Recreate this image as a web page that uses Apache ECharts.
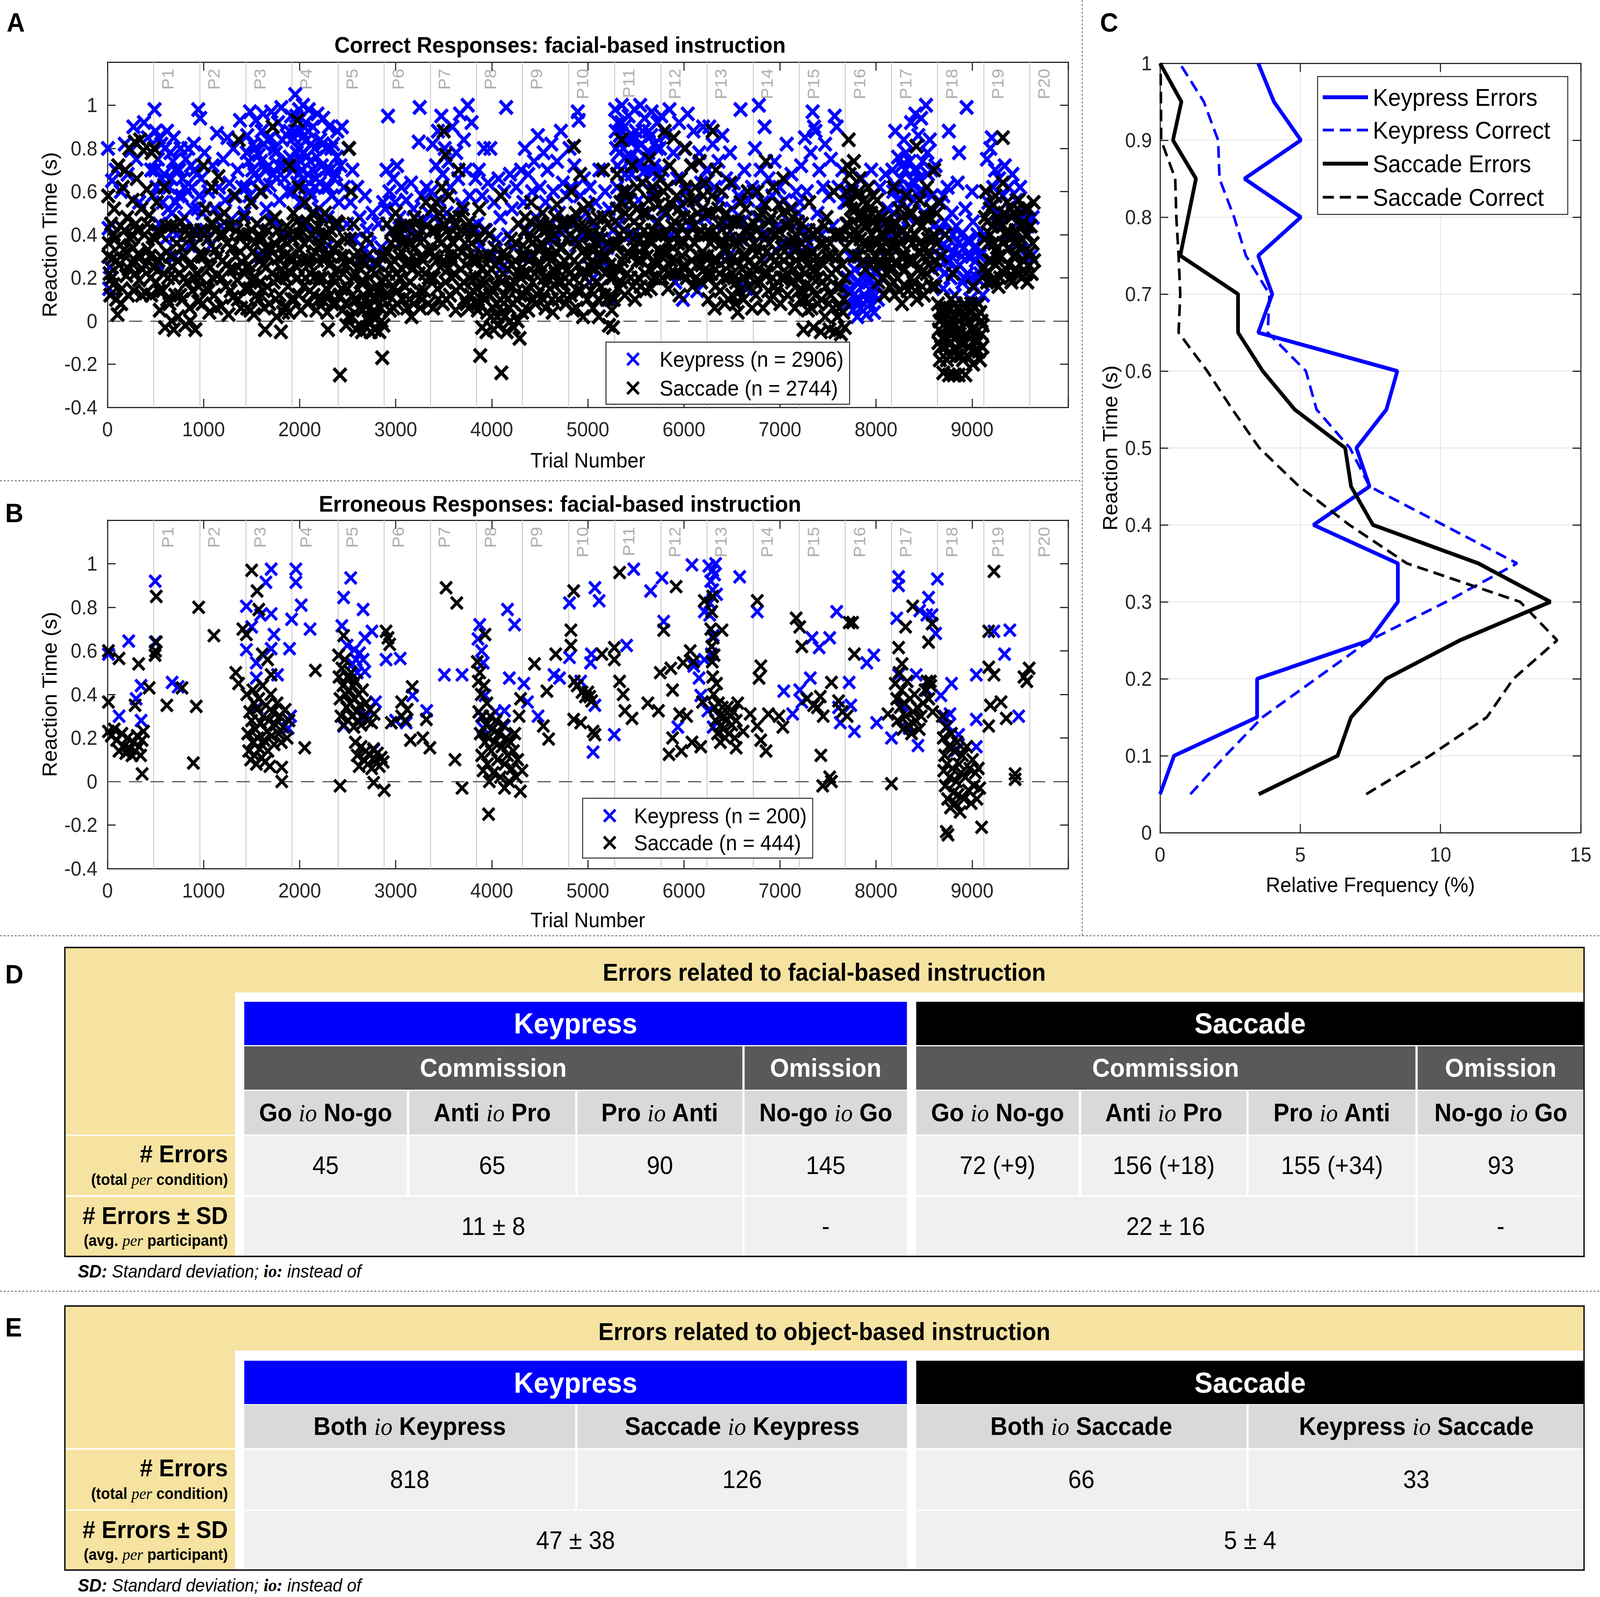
<!DOCTYPE html>
<html>
<head>
<meta charset="utf-8">
<title>Reaction times and errors</title>
<script src="https://cdn.jsdelivr.net/npm/echarts@6.0.0/dist/echarts.min.js"></script>
<style>
html, body { margin: 0; padding: 0; background: #fff; overflow: hidden; }
#frame { overflow: hidden; }
#chart { width: 4317px; height: 4089px; transform-origin: 0 0; }
</style>
</head>
<body>
<div id="frame"><div id="chart"></div></div>
<script>
var FONT = '"Liberation Sans", Arial, Helvetica, sans-serif';
var SERIF = '"Liberation Serif", "Times New Roman", serif';
var AXIS_COLOR = '#262626';
var BLUE = '#0000ff';
var X_PATH = 'path://M0,0L10,10M10,0L0,10';

// participant boundaries (trial numbers) and their labels
var participantStarts = [480, 960, 1440, 1920, 2400, 2880, 3360, 3840, 4320, 4800,
    5280, 5760, 6240, 6720, 7200, 7680, 8160, 8640, 9120, 9600];
var participantLabels = ['P1', 'P2', 'P3', 'P4', 'P5', 'P6', 'P7', 'P8', 'P9', 'P10',
    'P11', 'P12', 'P13', 'P14', 'P15', 'P16', 'P17', 'P18', 'P19', 'P20'];

// A: correct responses [trial, reaction time (s)]
var keyCorrect = [
 [5,.80],[12,.43],[18,.15],[25,.25],[48,.65],[85,.70],[140,.60],[180,.82],[210,.68],[245,.79],[270,.90],[300,.75],[330,.55],[380,.92],[420,.85],[455,.70],[470,.58],
 [490,.98],[500,.88],[510,.62],[525,.75],[540,.45],[560,.82],[575,.55],[590,.68],[605,.38],[620,.88],[640,.62],[655,.78],[670,.50],[690,.85],[705,.70],[720,.40],[740,.58],[760,.80],[780,.66],[800,.48],[815,.75],[835,.60],[850,.35],[870,.72],[885,.52],[900,.82],[915,.42],[930,.68],[945,.98],[955,.58],[520,.27],[700,.30],
 [495,.70],[535,.85],[565,.66],[598,.80],[632,.52],[662,.66],[682,.74],[712,.55],[748,.70],[772,.58],[808,.62],[842,.80],[878,.62],[908,.70],[938,.52],
 [965,.94],[975,.66],[990,.50],[1010,.78],[1030,.42],[1050,.60],[1075,.35],[1095,.72],[1115,.52],[1140,.87],[1160,.62],[1180,.44],[1205,.75],[1225,.56],[1250,.85],[1270,.64],[1290,.47],[1310,.80],[1335,.58],[1355,.70],[1380,.93],[1400,.62],[1425,.50],
 [1445,.62],[1455,.86],[1470,.74],[1485,.97],[1500,.55],[1515,.82],[1530,.68],[1545,.93],[1560,.45],[1575,.77],[1590,.60],[1605,.88],[1620,.96],[1640,.70],[1655,.52],[1670,.84],[1690,.63],[1705,.97],[1720,.47],[1740,.80],[1760,.66],[1775,.92],[1790,.56],[1810,.99],[1830,.72],[1850,.40],[1865,.86],[1880,.60],[1900,.76],[1912,.95],[1600,.30],[1700,.33],
 [1450,.78],[1478,.58],[1508,.70],[1538,.80],[1568,.66],[1598,.74],[1628,.82],[1648,.62],[1678,.72],[1698,.85],[1728,.68],[1752,.78],[1782,.72],[1818,.84],[1842,.66],[1872,.74],[1895,.88],
 [1925,.60],[1935,.85],[1945,.72],[1955,1.05],[1965,.95],[1975,.64],[1985,.80],[1995,.98],[2005,.55],[2015,.88],[2025,.70],[2035,1.0],[2045,.78],[2055,.62],[2065,.92],[2075,.84],[2085,.68],[2095,.98],[2110,.74],[2125,.58],[2140,.90],[2155,.80],[2170,.66],[2185,.96],[2200,.52],[2215,.84],[2230,.72],[2245,.94],[2260,.62],[2275,.80],[2290,.48],[2305,.90],[2320,.70],[2335,.58],[2350,.82],[2365,.45],[2380,.68],[2392,.88],[2060,.45],[2200,.40],[2300,.35],[2150,.50],
 [1930,.70],[1950,.88],[1970,.78],[1990,.68],[2010,.74],[2030,.85],[2050,.66],[2070,.76],[2090,.88],[2105,.60],[2120,.82],[2135,.70],[2160,.62],[2178,.76],[2210,.64],[2238,.82],[2268,.70],[2298,.62],[2328,.80],[2358,.66],[2388,.76],
 [2410,.55],[2425,.72],[2440,.90],[2460,.62],[2480,.08],[2495,.45],[2510,.80],[2530,.55],[2550,.70],[2575,.38],[2600,.62],[2625,.48],[2650,.30],[2680,.58],[2700,.42],[2730,.36],[2760,.50],[2790,.28],[2820,.45],[2850,.34],[2870,.55],
 [2890,.52],[2905,.70],[2920,.95],[2935,.60],[2955,.42],[2975,.66],[2995,.55],[3015,.72],[3040,.48],[3060,.62],[3085,.38],[3110,.56],[3135,.44],[3160,.64],[3185,.52],[3210,.40],[3240,.83],[3250,.99],[3270,.58],[3295,.46],[3320,.62],[3345,.50],
 [3370,.60],[3385,.82],[3400,.48],[3420,.72],[3440,.88],[3455,.56],[3475,.95],[3490,.68],[3510,.80],[3530,.50],[3550,.74],[3570,.62],[3590,.90],[3610,.45],[3630,.78],[3650,.66],[3670,.96],[3690,.54],[3710,.84],[3730,.70],[3750,1.0],[3770,.58],[3790,.92],[3810,.44],[3830,.66],
 [3850,.45],[3865,.70],[3880,.35],[3900,.58],[3920,.80],[3940,.42],[3960,.64],[3985,.80],[4005,.30],[4025,.55],[4045,.38],[4070,.66],[4090,.48],[4110,.25],[4130,.60],[4150,.99],[4170,.40],[4190,.68],[4210,.52],[4230,.34],[4255,.62],[4280,.45],[4305,.70],
 [4330,.55],[4345,.80],[4360,.42],[4380,.68],[4400,.30],[4420,.60],[4440,.74],[4460,.48],[4480,.86],[4500,.62],[4520,.36],[4540,.78],[4560,.55],[4580,.70],[4600,.44],[4620,.82],[4640,.60],[4660,.38],[4680,.74],[4700,.50],[4720,.88],[4740,.64],[4760,.42],[4780,.58],
 [4810,.80],[4825,.62],[4840,.45],[4860,.72],[4880,.35],[4895,.97],[4905,.93],[4920,.58],[4940,.40],[4960,.66],[4980,.50],[5000,.30],[5020,.62],[5040,.45],[5060,.20],[5080,.55],[5100,.38],[5120,.70],[5140,.28],[5160,.48],[5180,.60],[5200,.34],[5220,.52],[5240,.10],[5260,.42],
 [5285,.98],[5295,.80],[5305,.62],[5315,.92],[5325,.45],[5335,.86],[5345,.70],[5355,1.0],[5365,.55],[5380,.90],[5395,.76],[5410,.60],[5425,.95],[5440,.84],[5455,.68],[5470,.40],[5485,.98],[5500,.88],[5515,.72],[5530,.56],[5545,1.0],[5560,.82],[5575,.64],[5590,.94],[5605,.76],[5620,.50],[5635,.88],[5650,.70],[5665,.97],[5680,.60],[5695,.82],[5710,.45],[5725,.92],[5740,.68],[5752,.80],
 [5290,.88],[5310,.72],[5330,.78],[5350,.92],[5370,.80],[5390,.68],[5415,.85],[5450,.76],[5480,.84],[5510,.80],[5540,.74],[5570,.88],[5600,.70],[5630,.78],[5660,.86],[5690,.72],[5720,.80],
 [5765,.95],[5780,.70],[5795,.50],[5810,.86],[5830,.62],[5850,.98],[5870,.40],[5890,.78],[5910,.18],[5930,.66],[5950,.92],[5970,.54],[5990,.10],[6005,.80],[6020,.60],[6040,.96],[6060,.44],[6080,.72],[6100,.88],[6120,.56],[6140,.14],[6160,.78],[6180,.64],[6200,.90],[6220,.48],[6235,.70],
 [6250,.70],[6265,.90],[6280,.50],[6300,.82],[6320,.62],[6340,.40],[6360,.74],[6380,.56],[6400,.86],[6420,.45],[6440,.66],[6460,.30],[6480,.78],[6500,.52],[6520,.64],[6545,.38],[6570,.58],[6590,.98],[6610,.46],[6630,.70],[6650,.15],[6670,.56],[6690,.40],[6710,.62],
 [6725,.60],[6740,.80],[6760,.48],[6780,1.0],[6800,.70],[6820,.55],[6840,.90],[6860,.40],[6880,.66],[6900,.30],[6920,.58],[6945,.74],[6970,.44],[6995,.62],[7020,.36],[7045,.56],[7070,.82],[7095,.46],[7120,.68],[7145,.34],[7170,.60],[7190,.50],
 [7205,.55],[7220,.72],[7240,.42],[7260,.85],[7280,.60],[7300,.36],[7320,.78],[7340,.97],[7355,.90],[7370,.88],[7390,.50],[7410,.70],[7430,.40],[7450,.62],[7470,.82],[7490,.30],[7510,.58],[7530,.75],[7550,.44],[7570,.95],[7590,.90],[7610,.62],[7630,.40],[7650,.70],[7670,.55],
 [7690,.55],[7700,.20],[7715,.08],[7730,.30],[7745,.14],[7760,.05],[7775,.24],[7790,.10],[7805,.02],[7820,.18],[7840,.06],[7860,.26],[7880,.12],[7900,.03],[7920,.20],[7940,.08],[7960,.16],[7980,.04],[8000,.22],[8020,.10],[8040,.62],[8060,.45],[8080,.30],[8100,.68],[8120,.52],[8140,.40],[7750,.60],[7850,.66],[7950,.70],
 [7708,.14],[7738,.22],[7768,.12],[7798,.18],[7828,.10],[7868,.20],[7908,.10],[7948,.14],[7988,.12],[8012,.16],
 [8170,.70],[8185,.50],[8200,.88],[8215,.62],[8230,.76],[8245,.42],[8260,.66],[8275,.55],[8290,.84],[8305,.70],[8320,.60],[8335,.48],[8350,.74],[8365,.92],[8380,.65],[8395,.56],[8410,.96],[8425,.70],[8440,.86],[8455,.60],[8470,.94],[8485,.74],[8500,.50],[8520,1.0],[8540,.68],[8560,.84],[8580,.58],[8600,.44],[8620,.72],[8635,.36],
 [8180,.60],[8225,.56],[8268,.72],[8312,.78],[8358,.62],[8402,.70],[8448,.66],[8492,.60],[8535,.78],[8578,.70],
 [8650,.42],[8660,.25],[8675,.55],[8690,.35],[8700,.15],[8715,.46],[8730,.28],[8745,.62],[8758,.88],[8760,.38],[8775,.20],[8790,.50],[8805,.32],[8820,.12],[8835,.44],[8850,.64],[8865,.78],[8870,.26],[8885,.40],[8900,.18],[8915,.34],[8930,.52],[8943,.99],[8950,.22],[8965,.38],[8980,.10],[8995,.30],[9010,.46],[9025,.16],[9040,.28],[9055,.40],[9070,.08],[9085,.22],[9100,.32],[9112,.12],[8700,.58],[9000,.60],
 [8655,.30],[8682,.42],[8712,.22],[8738,.34],[8768,.28],[8798,.40],[8828,.24],[8858,.36],[8892,.30],[8922,.20],[8958,.30],[8988,.20],[9018,.34],[9048,.20],[9078,.30],[9108,.24],
 [9125,.40],[9140,.60],[9155,.75],[9170,.55],[9190,.80],[9205,.85],[9220,.62],[9240,.70],[9260,.50],[9280,.66],[9300,.45],[9320,.58],[9340,.72],[9360,.40],[9380,.62],[9400,.52],[9420,.68],[9440,.36],[9460,.56],[9480,.46],[9500,.62],[9520,.38],[9540,.50],[9560,.30],[9580,.44],
 [9615,.30],[9630,.48]
];
var sacCorrect = [
 [8,.58],[15,.36],[22,.22],[30,.12],[38,.45],[52,.29],[60,.17],[70,.52],[78,.38],[90,.10],[105,.03],[112,.72],[120,.26],[135,.44],[150,.15],[160,.62],[170,.33],[185,.70],[195,.21],[205,.48],[215,.12],[228,.80],[240,.38],[250,.27],[262,.56],[275,.14],[285,.83],[295,.45],[305,.66],[318,.31],[330,.19],[340,.84],[352,.52],[365,.24],[375,.79],[385,.40],[398,.13],[410,.61],[422,.33],[435,.49],[448,.20],[460,.78],[470,.39],
 [10,.30],[45,.20],[65,.40],[95,.28],[128,.35],[142,.08],[178,.42],[200,.32],[222,.24],[255,.40],[268,.34],[290,.22],[312,.42],[345,.30],[358,.12],[392,.26],[415,.45],[440,.30],[455,.12],[475,.25],
 [485,.80],[495,.38],[505,.18],[515,.55],[530,.28],[545,.05],[560,.40],[575,.14],[590,.62],[600,-.03],[615,.32],[630,.20],[645,.08],[660,.44],[675,.25],[690,-.04],[705,.12],[720,.36],[735,.02],[750,.22],[765,.46],[780,.10],[795,.30],[810,-.02],[825,.18],[840,.40],[855,.06],[870,.27],[885,.14],[900,.35],[915,-.04],[930,.22],[945,.09],[955,.31],
 [490,.25],[522,.42],[538,.14],[555,.30],[582,.22],[608,.44],[622,.10],[652,.30],[668,0],[698,.20],[712,.44],[728,.28],[758,.12],[772,.34],[802,.20],[818,.42],[848,.26],[862,0],[892,.42],[908,.20],[922,.40],[950,.16],
 [965,.20],[975,.42],[990,.08],[1000,.72],[1005,.30],[1020,.52],[1030,.15],[1045,.38],[1060,.04],[1070,.25],[1085,.62],[1100,.45],[1110,.12],[1125,.33],[1140,.21],[1155,.67],[1170,.40],[1185,.07],[1200,.28],[1215,.50],[1230,.16],[1245,.36],[1260,.03],[1275,.24],[1290,.44],[1305,.11],[1320,.58],[1335,.30],[1350,.19],[1365,.84],[1375,.40],[1390,.06],[1405,.27],[1420,.48],[1432,.15],
 [980,.30],[1012,.40],[1038,.26],[1052,.14],[1078,.45],[1092,.20],[1118,.42],[1132,.06],[1148,.30],[1162,.48],[1192,.20],[1208,.40],[1238,.26],[1252,.44],[1282,.14],[1298,.34],[1312,.24],[1342,.42],[1358,.10],[1382,.32],[1412,.40],[1425,.22],
 [1445,.25],[1455,.06],[1465,.40],[1480,.15],[1495,.55],[1510,.32],[1525,.03],[1540,.20],[1555,.45],[1570,.10],[1585,.28],[1600,.60],[1612,.38],[1625,.14],[1640,-.04],[1655,.25],[1670,.42],[1685,.08],[1700,.33],[1720,.90],[1730,.18],[1745,.48],[1760,.02],[1775,.29],[1790,.12],[1805,-.05],[1820,.38],[1835,.21],[1850,.07],[1865,.44],[1880,.16],[1895,.72],[1905,.30],[1915,.10],
 [1450,.35],[1472,.26],[1488,.05],[1502,.42],[1518,.20],[1532,.36],[1548,.12],[1562,.30],[1578,.40],[1592,.18],[1618,.26],[1632,.06],[1648,.34],[1662,.16],[1678,.30],[1692,.46],[1712,.22],[1738,.36],[1752,.10],[1768,.42],[1782,.20],[1798,.34],[1812,.24],[1828,.04],[1842,.30],[1858,.20],[1872,.36],[1888,.04],[1898,.40],[1910,.22],
 [1925,.28],[1935,.50],[1945,.10],[1960,.40],[1975,.93],[1980,.20],[1990,.62],[2000,.33],[2012,.05],[2025,.45],[2040,.16],[2055,.55],[2070,.28],[2085,.08],[2100,.38],[2115,.22],[2130,.50],[2145,.12],[2160,.32],[2175,.05],[2190,.44],[2205,.20],[2220,.36],[2235,.10],[2250,.28],[2265,.50],[2280,.15],[2295,-.04],[2310,.26],[2325,.42],[2340,.08],[2355,.33],[2370,.18],[2385,.46],[2395,.24],
 [1930,.38],[1952,.26],[1968,.46],[1992,.12],[2005,.40],[2020,.28],[2048,.36],[2062,.20],[2078,.46],[2092,.26],[2108,.14],[2122,.40],[2138,.30],[2152,.20],[2168,.42],[2182,.28],[2198,.10],[2212,.34],[2228,.48],[2242,.20],[2258,.40],[2272,.30],[2288,.04],[2302,.40],[2318,.12],[2332,.30],[2348,.20],[2362,.44],[2378,.08],[2390,.36],
 [2405,.45],[2415,.12],[2420,-.25],[2430,.30],[2445,.05],[2455,.22],[2470,.38],[2485,-.02],[2500,.15],[2515,.80],[2520,.28],[2535,.60],[2545,.02],[2560,.20],[2575,.10],[2590,-.04],[2605,.32],[2620,.06],[2635,.18],[2650,-.05],[2665,.12],[2680,.26],[2695,-.03],[2710,.08],[2725,.20],[2740,-.05],[2755,.04],[2770,.15],[2785,-.04],[2800,.10],[2815,.26],[2830,-.05],[2845,.06],[2860,.18],[2872,-.02],[2560,.45],[2700,.38],
 [2410,.20],[2438,.15],[2462,.30],[2478,.08],[2492,.26],[2508,.02],[2528,.38],[2552,.12],[2568,.30],[2582,.22],[2598,.10],[2612,.25],[2628,-.02],[2642,.28],[2658,.05],[2672,.18],[2688,.10],[2702,.30],[2718,0],[2732,.14],[2748,.24],[2762,.02],[2778,.10],[2792,.22],[2808,.02],[2822,.14],[2838,.30],[2852,0],[2866,.10],
 [2860,-.17],[2885,.30],[2895,.12],[2910,.45],[2925,.22],[2940,.05],[2955,.36],[2970,.15],[2985,.28],[3000,.50],[3015,.08],[3030,.40],[3045,.20],[3060,.32],[3075,.10],[3090,.44],[3105,.26],[3120,.06],[3135,.36],[3150,.18],[3165,.02],[3180,.30],[3195,.48],[3210,.12],[3225,.38],[3240,.22],[3255,.06],[3270,.42],[3285,.28],[3300,.14],[3315,.55],[3330,.33],[3345,.20],
 [2890,.20],[2918,.32],[2932,.12],[2948,.26],[2962,.42],[2978,.06],[2992,.38],[3008,.22],[3022,.14],[3038,.30],[3052,.44],[3068,.24],[3082,.36],[3098,.16],[3112,.38],[3128,.28],[3142,.10],[3158,.44],[3172,.24],[3188,.08],[3202,.34],[3218,.26],[3232,.46],[3248,.14],[3262,.30],[3278,.10],[3292,.38],[3308,.22],[3322,.44],[3338,.08],[3352,.32],
 [3365,.20],[3375,.42],[3390,.06],[3405,.30],[3420,.55],[3435,.15],[3450,.38],[3465,.25],[3480,.62],[3490,.08],[3500,.88],[3505,.45],[3520,.77],[3520,.18],[3535,.34],[3550,.58],[3565,.12],[3580,.28],[3595,.48],[3610,.22],[3625,.05],[3640,.40],[3655,.70],[3670,.16],[3685,.32],[3700,.52],[3715,.10],[3730,.26],[3745,.42],[3760,.06],[3775,.20],[3790,.36],[3805,.14],[3820,.30],[3835,.08],
 [3370,.32],[3382,.52],[3398,.20],[3412,.42],[3428,.28],[3442,.10],[3458,.50],[3472,.36],[3498,.28],[3512,.44],[3528,.10],[3542,.24],[3558,.40],[3572,.30],[3588,.20],[3602,.36],[3618,.44],[3632,.14],[3648,.30],[3662,.48],[3678,.24],[3692,.42],[3708,.18],[3722,.36],[3738,.08],[3752,.30],[3768,.46],[3782,.12],[3798,.28],[3812,.42],[3828,.20],
 [3845,.28],[3855,.05],[3870,.52],[3880,-.16],[3885,.18],[3900,-.03],[3915,.30],[3930,.10],[3945,-.05],[3960,.22],[3975,.40],[3990,.02],[4005,.15],[4020,-.04],[4035,.26],[4050,.08],[4065,-.02],[4080,.20],[4095,.58],[4100,-.24],[4110,.04],[4125,.32],[4140,.12],[4155,-.05],[4170,.24],[4185,.06],[4200,.38],[4215,.16],[4230,-.03],[4245,.28],[4260,.10],[4275,.45],[4290,-.08],[4305,.20],[4315,.04],
 [3850,.15],[3862,.38],[3878,.08],[3892,.24],[3908,.12],[3922,.42],[3938,.18],[3952,.04],[3968,.30],[3982,.12],[3998,.24],[4012,.06],[4028,.34],[4042,.16],[4058,.02],[4072,.28],[4088,.10],[4102,.18],[4118,.22],[4132,.02],[4148,.30],[4162,.10],[4178,.16],[4192,0],[4208,.26],[4222,.08],[4238,.18],[4252,.36],[4268,0],[4282,.22],[4298,.12],[4310,.30],
 [4325,.35],[4335,.12],[4350,.48],[4365,.22],[4380,.05],[4395,.38],[4410,.55],[4425,.18],[4440,.30],[4455,.08],[4470,.44],[4485,.25],[4500,.14],[4515,.36],[4530,.50],[4545,.20],[4560,.06],[4575,.32],[4590,.45],[4605,.15],[4620,.28],[4635,.04],[4650,.40],[4665,.22],[4680,.54],[4695,.10],[4710,.34],[4725,.18],[4740,.46],[4755,.28],[4770,.08],[4785,.38],
 [4330,.22],[4342,.42],[4358,.30],[4372,.14],[4388,.28],[4402,.46],[4418,.36],[4432,.10],[4448,.22],[4462,.38],[4478,.12],[4492,.34],[4508,.26],[4522,.44],[4538,.10],[4552,.30],[4568,.42],[4582,.20],[4598,.30],[4612,.38],[4628,.10],[4642,.24],[4658,.48],[4672,.32],[4688,.18],[4702,.42],[4718,.26],[4732,.34],[4748,.12],[4762,.20],[4778,.46],[4792,.24],
 [4805,.18],[4815,.40],[4830,.60],[4845,.05],[4855,.81],[4860,.28],[4875,.50],[4890,.14],[4905,.36],[4920,.68],[4935,.22],[4950,.02],[4965,.44],[4980,.30],[4995,.10],[5010,.54],[5025,.25],[5040,.40],[5055,.06],[5070,.33],[5085,.18],[5100,.48],[5115,.02],[5130,.26],[5145,.38],[5160,.70],[5175,.12],[5190,.30],[5205,.45],[5220,-.02],[5235,.20],[5250,.05],[5262,-.03],[5272,.35],
 [4810,.30],[4822,.12],[4838,.46],[4852,.20],[4868,.38],[4882,.06],[4898,.26],[4912,.44],[4928,.14],[4942,.32],[4958,.52],[4972,.20],[4988,.40],[5002,.22],[5018,.34],[5032,.14],[5048,.28],[5062,.46],[5078,.24],[5092,.36],[5108,.10],[5122,.40],[5138,.16],[5152,.30],[5168,.48],[5182,.22],[5198,.10],[5212,.36],[5228,.26],[5242,.12],[5258,.20],[5270,.10],
 [5285,.46],[5295,.25],[5305,.68],[5315,.35],[5325,.15],[5340,.55],[5350,.84],[5355,.28],[5370,.42],[5385,.12],[5400,.60],[5415,.32],[5430,.48],[5445,.20],[5460,.72],[5475,.38],[5490,.10],[5505,.52],[5520,.28],[5535,.44],[5550,.16],[5565,.64],[5580,.34],[5595,.22],[5610,.50],[5625,.38],[5640,.75],[5655,.15],[5670,.42],[5685,.28],[5700,.58],[5715,.20],[5730,.46],[5745,.33],[5755,.66],
 [5290,.36],[5302,.52],[5318,.24],[5332,.40],[5348,.18],[5362,.60],[5378,.30],[5392,.50],[5408,.22],[5422,.40],[5438,.56],[5452,.30],[5468,.16],[5482,.46],[5498,.34],[5512,.62],[5528,.20],[5542,.38],[5558,.28],[5572,.50],[5588,.42],[5602,.14],[5618,.30],[5632,.56],[5648,.24],[5662,.36],[5678,.62],[5692,.20],[5708,.40],[5722,.26],[5738,.54],[5752,.40],
 [5765,.40],[5775,.20],[5790,.60],[5800,.88],[5805,.32],[5820,.50],[5835,.15],[5850,.72],[5865,.28],[5880,.44],[5895,.85],[5910,.22],[5925,.58],[5940,.36],[5955,.12],[5970,.66],[5985,.30],[6000,.48],[6015,.80],[6030,.20],[6045,.56],[6060,.34],[6075,.72],[6090,.16],[6105,.44],[6120,.62],[6135,.26],[6150,.40],[6165,.74],[6180,.18],[6195,.52],[6210,.30],[6225,.64],[6237,.22],
 [5770,.30],[5782,.52],[5798,.24],[5812,.40],[5828,.62],[5842,.36],[5858,.22],[5872,.54],[5888,.34],[5902,.46],[5918,.28],[5932,.40],[5948,.52],[5962,.22],[5978,.44],[5992,.36],[6008,.26],[6022,.62],[6038,.40],[6052,.22],[6068,.48],[6082,.28],[6098,.56],[6112,.36],[6128,.20],[6142,.50],[6158,.30],[6172,.42],[6188,.26],[6202,.58],[6218,.40],[6232,.50],
 [6245,.30],[6255,.10],[6270,.50],[6285,.22],[6300,.88],[6305,.38],[6320,.06],[6335,.70],[6350,.28],[6365,.45],[6380,.14],[6395,.60],[6410,.33],[6425,.08],[6440,.50],[6455,.20],[6470,.38],[6485,.64],[6500,.12],[6515,.30],[6530,.46],[6545,.18],[6560,.04],[6575,.36],[6590,.55],[6605,.24],[6620,.10],[6635,.42],[6650,.30],[6665,.60],[6680,.16],[6695,.34],[6710,.06],
 [6250,.42],[6262,.20],[6278,.36],[6292,.58],[6312,.28],[6328,.16],[6342,.40],[6358,.52],[6372,.22],[6388,.36],[6402,.46],[6418,.20],[6432,.28],[6448,.40],[6462,.10],[6478,.26],[6492,.46],[6508,.22],[6522,.36],[6538,.08],[6552,.28],[6568,.46],[6582,.14],[6598,.38],[6612,.30],[6628,.20],[6642,.52],[6658,.22],[6672,.44],[6688,.28],[6702,.40],[6715,.22],
 [6725,.25],[6735,.45],[6750,.12],[6765,.60],[6780,.32],[6795,.18],[6810,.50],[6825,.06],[6840,.38],[6855,.74],[6870,.22],[6885,.46],[6900,.10],[6915,.30],[6930,.62],[6945,.16],[6960,.40],[6975,.26],[6990,.54],[7005,.08],[7020,.34],[7035,.66],[7050,.20],[7065,.44],[7080,.12],[7095,.30],[7110,.52],[7125,.18],[7140,.38],[7155,.06],[7170,.28],[7185,.46],[7195,.14],
 [6730,.36],[6742,.18],[6758,.42],[6772,.24],[6788,.48],[6802,.28],[6818,.40],[6832,.22],[6848,.54],[6862,.32],[6878,.14],[6892,.36],[6908,.48],[6922,.20],[6938,.40],[6952,.28],[6968,.14],[6982,.42],[6998,.30],[7012,.20],[7028,.50],[7042,.28],[7058,.36],[7072,.22],[7088,.44],[7102,.26],[7118,.36],[7132,.48],[7148,.24],[7162,.40],[7178,.20],[7192,.34],
 [7205,.30],[7215,.10],[7230,.45],[7245,-.04],[7260,.22],[7275,.38],[7290,.05],[7305,.55],[7320,.16],[7335,.32],[7350,-.03],[7365,.24],[7380,.42],[7395,.08],[7410,.28],[7425,-.05],[7440,.18],[7455,.36],[7470,.02],[7485,.48],[7500,.20],[7515,-.04],[7530,.12],[7545,.30],[7560,.60],[7575,-.05],[7590,.16],[7605,.40],[7620,.06],[7635,-.06],[7650,.26],[7665,.10],[7675,-.03],
 [7210,.20],[7222,.36],[7238,.14],[7252,.30],[7268,.10],[7282,.26],[7298,.42],[7312,.30],[7328,.06],[7342,.20],[7358,.40],[7372,.12],[7388,.30],[7402,.20],[7418,.36],[7432,.10],[7448,.26],[7462,.44],[7478,.16],[7492,.30],[7508,.08],[7522,.36],[7538,.22],[7552,.06],[7568,.40],[7582,.24],[7598,.02],[7612,.30],[7628,.16],[7642,.40],[7658,.04],[7672,.20],
 [7685,.34],[7695,.60],[7705,.45],[7715,.84],[7725,.68],[7740,.52],[7755,.38],[7770,.74],[7785,.42],[7800,.58],[7815,.30],[7830,.66],[7845,.48],[7860,.36],[7875,.56],[7890,.24],[7905,.44],[7920,.62],[7935,.34],[7950,.50],[7965,.28],[7980,.46],[7995,.38],[8010,.56],[8025,.18],[8040,.34],[8055,.26],[8070,.48],[8085,.12],[8100,.36],[8115,.22],[8130,.44],[8145,.16],[8155,.30],
 [7690,.45],[7702,.72],[7718,.56],[7732,.40],[7748,.62],[7762,.46],[7778,.30],[7792,.52],[7808,.40],[7822,.60],[7838,.38],[7852,.50],[7868,.28],[7882,.44],[7898,.54],[7912,.36],[7928,.48],[7942,.26],[7958,.40],[7972,.58],[7988,.30],[8002,.44],[8018,.36],[8032,.50],[8048,.28],[8062,.40],[8078,.20],[8092,.30],[8108,.46],[8122,.32],[8138,.24],[8152,.42],
 [8165,.25],[8175,.45],[8185,.62],[8195,.12],[8210,.35],[8225,.20],[8240,.52],[8255,.30],[8270,.08],[8285,.42],[8300,.24],[8315,.58],[8330,.14],[8345,.38],[8360,.28],[8375,.50],[8390,.18],[8405,.40],[8420,.81],[8425,.10],[8440,.32],[8455,.56],[8470,.22],[8485,.44],[8500,.12],[8515,.34],[8530,.62],[8545,.26],[8560,.48],[8575,.16],[8590,.38],[8605,.70],[8620,.28],[8633,.50],
 [8170,.35],[8182,.18],[8198,.46],[8212,.26],[8228,.40],[8242,.14],[8258,.36],[8272,.48],[8288,.30],[8302,.16],[8318,.40],[8332,.28],[8348,.50],[8362,.20],[8378,.36],[8392,.28],[8408,.14],[8422,.46],[8438,.24],[8452,.36],[8468,.44],[8482,.16],[8498,.30],[8512,.48],[8528,.22],[8542,.38],[8558,.30],[8572,.52],[8588,.24],[8602,.40],[8618,.16],[8632,.36],
 [8645,.08],[8655,-.04],[8665,-.18],[8675,.04],[8690,-.08],[8700,-.24],[8705,.02],[8720,-.12],[8735,.06],[8750,-.04],[8760,-.25],[8765,-.16],[8780,.10],[8795,-.06],[8810,-.25],[8815,.02],[8830,-.14],[8845,.06],[8860,-.04],[8860,-.25],[8875,-.10],[8890,.04],[8905,-.18],[8920,.08],[8930,-.25],[8935,-.06],[8950,.02],[8965,-.12],[8980,.05],[8995,-.04],[9010,-.20],[9025,.06],[9040,-.08],[9055,.02],[9070,-.14],[9085,.04],[9100,-.06],[9110,-.02],[8680,.30],[8800,.22],[9010,.16],[8660,.55],[8720,.40],
 [8650,-.10],[8662,0],[8678,-.12],[8692,.06],[8708,-.08],[8722,.04],[8738,-.18],[8752,-.02],[8768,.06],[8782,-.10],[8798,0],[8812,-.08],[8828,.08],[8842,-.16],[8858,0],[8872,-.06],[8888,-.16],[8902,.02],[8918,-.10],[8932,.06],[8948,-.16],[8962,0],[8978,-.08],[8992,.08],[9008,-.04],[9022,-.14],[9038,.02],[9052,-.10],[9068,.08],[9082,-.18],[9098,0],[9108,-.12],
 [9125,.25],[9135,.48],[9145,.60],[9155,.18],[9170,.36],[9185,.52],[9200,.28],[9215,.44],[9230,.20],[9245,.58],[9260,.34],[9275,.16],[9290,.46],[9305,.30],[9320,.85],[9320,.64],[9335,.22],[9350,.40],[9365,.55],[9380,.26],[9395,.38],[9410,.18],[9425,.50],[9440,.30],[9455,.42],[9470,.22],[9485,.56],[9500,.34],[9515,.20],[9530,.46],[9545,.28],[9560,.40],[9575,.18],[9590,.52],[9600,.32],
 [9130,.38],[9142,.22],[9158,.46],[9172,.28],[9188,.40],[9202,.18],[9218,.54],[9232,.36],[9248,.26],[9262,.48],[9278,.30],[9292,.20],[9308,.44],[9322,.36],[9338,.50],[9352,.24],[9368,.42],[9382,.34],[9398,.20],[9412,.48],[9428,.30],[9442,.40],[9458,.24],[9472,.52],[9488,.36],[9502,.22],[9518,.44],[9532,.28],[9548,.52],[9562,.22],[9578,.40],[9592,.26],
 [9610,.44],[9620,.22],[9630,.36],[9640,.55],[9645,.28]
];

// B: erroneous responses [trial, reaction time (s)]
var keyError = [
 [10,.585],[121,.30],[221,.645],[298,.38],[350,.28],[350,.44],[497,.92],[497,.64],[673,.455],[736,.435],
 [1446,.805],[1446,.605],[1501,.71],[1549,.545],[1549,.475],[1593,.765],[1649,.915],[1704,.975],[1704,.77],[1733,.675],[1704,.61],[1770,.49],[1895,.61],[1917,.745],[1961,.975],[1961,.915],[2017,.81],[2109,.70],[1906,.30],[1880,.245],[1557,.34],
 [2458,.845],[2440,.715],[2532,.935],[2661,.79],[2753,.69],[2679,.66],[2495,.625],[2569,.605],[2624,.59],[2587,.56],[2661,.56],[2900,.56],[3047,.565],[2679,.505],[2790,.365],[3176,.395],[3323,.325],[3000,.28],[3110,.27],[2771,.145],[2458,.255],[2600,.50],[2550,.54],[2700,.30],
 [3507,.49],[3691,.49],[3875,.72],[3857,.655],[3912,.545],[3894,.60],[3930,.395],[3912,.245],[3894,.30],[4040,.32],[4133,.325],[4164,.79],[4238,.72],[4183,.475],[4133,.255],[4335,.45],[4372,.365],[4482,.30],[4648,.49],
 [4706,.475],[4809,.82],[4809,.57],[4926,.46],[5029,.545],[5037,.585],[5074,.89],[5118,.83],[5074,.35],[5055,.135],[5276,.215],[5404,.625],[5478,.975],[5654,.875],[5772,.935],[5790,.735],[5937,.25],[6084,.995],[6103,.53],[6158,.475],[6213,.56],[6176,.395],[6213,.78],[6268,.765],
 [6260,.99],[6300,.97],[6320,.95],[6280,.92],[6330,1.0],[6300,.88],[6340,.86],[6270,.82],[6305,.67],[6286,.585],[6250,.325],[6305,.25],[6581,.94],[6764,.78],
 [7040,.415],[7132,.31],[7206,.42],[7228,.365],[7316,.475],[7334,.66],[7408,.615],[7518,.66],[7591,.78],[7610,.34],[7628,.27],[7720,.455],[7738,.35],[7775,.23],[7904,.545],[7977,.58],[8007,.27],
 [8161,.20],[8235,.94],[8235,.90],[8216,.75],[8235,.49],[8271,.35],[8345,.245],[8437,.165],[8418,.49],[8455,.785],[8529,.765],[8547,.845],[8584,.765],[8621,.68],[8639,.93],[8529,.42],
 [8676,.395],[8713,.30],[8786,.45],[8749,.255],[8770,.31],[8841,.145],[8860,.215],[9044,.49],[9044,.285],[9044,.16],[9227,.69],[9393,.695],[9338,.585],[9485,.30]
];
var sacError = [
 [10,.60],[120,.565],[10,.365],[10,.23],[40,.21],[70,.24],[95,.19],[120,.14],[150,.22],[170,.16],[190,.13],[210,.20],[235,.15],[255,.12],[270,.18],[290,.14],[310,.21],[330,.16],[345,.12],[360,.19],[375,.23],[361,.035],[324,.54],[287,.35],[434,.43],[508,.85],[508,.64],[500,.60],[495,.58],[618,.35],[776,.43],[949,.80],[924,.345],[894,.085],[1108,.67],
 [1336,.50],[1365,.45],[1409,.70],[1446,.675],[1501,.97],[1557,.875],[1575,.79],[1612,.585],[1667,.56],[1704,.49],
 [1450,.40],[1460,.22],[1470,.14],[1480,.32],[1490,.10],[1500,.28],[1510,.18],[1515,.42],[1525,.36],[1530,.12],[1540,.24],[1550,.08],[1555,.33],[1565,.20],[1575,.38],[1585,.15],[1595,.27],[1605,.11],[1615,.44],[1620,.30],[1630,.19],[1640,.09],[1650,.35],[1660,.23],[1670,.14],[1680,.28],[1690,.07],[1700,.40],[1710,.21],[1720,.32],[1735,.17],[1750,.26],[1765,.36],[1780,.22],[1795,.30],[1810,.18],[1830,.25],[1850,.33],[1870,.20],[1890,.28],
 [1814,.065],[1814,0],[2053,.155],[2164,.51],
 [2421,-.02],[2458,.67],[2405,.58],[2410,.48],[2420,.38],[2430,.30],[2440,.52],[2450,.44],[2460,.26],[2470,.56],[2480,.40],[2490,.34],[2500,.48],[2505,.28],[2515,.42],[2525,.36],[2535,.50],[2545,.30],[2555,.44],[2565,.25],[2575,.38],[2585,.46],[2595,.32],[2605,.28],[2615,.40],[2625,.35],[2640,.26],[2655,.42],[2670,.30],[2690,.36],[2710,.28],[2730,.33],[2750,.27],[2775,.31],
 [2580,.18],[2600,.12],[2620,.07],[2640,.16],[2665,.10],[2690,.14],[2710,.08],[2730,.12],[2750,.06],[2770,.15],[2790,.10],[2810,.13],[2830,.07],[2850,.11],[2870,.09],
 [2771,-.005],[2881,-.04],[2900,.69],[2937,.63],[2920,.66],[2955,.27],[3062,.365],[3172,.435],[3154,.19],[3282,.20],[3319,.285],[3356,.155],[3062,.30],[3100,.28],[3120,.33],
 [3525,.89],[3636,.82],[3617,.10],[3691,-.03],
 [3850,.55],[3860,.46],[3865,.32],[3875,.50],[3880,.22],[3890,.40],[3895,.12],[3905,.30],[3910,.05],[3920,.44],[3930,.18],[3940,.26],[3950,.36],[3955,.08],[3965,.20],[3975,0],[3985,.30],[3995,.14],[4005,.24],[4015,.04],[4030,.18],[4045,.28],[4060,.10],[4075,.22],[4090,.02],[4105,.16],[4120,.26],[4135,.08],[4150,.20],[4165,.12],[4180,0],[4195,.18],[4210,.06],[4225,.14],[4240,.22],[4255,.02],[4270,.10],[4285,.30],[4300,.38],[4315,.05],
 [3967,-.15],[3930,.675],[4133,-.03],[4298,-.045],[4445,.54],[4574,.415],[4592,.195],[4537,.255],[4666,.585],
 [4853,.875],[4824,.695],[4824,.625],[4860,.46],[4890,.44],[4940,.41],[4975,.39],[5000,.41],[5020,.39],[5040,.37],[4853,.285],[4926,.27],[5055,.23],[5074,.215],[5147,.585],[5276,.615],[5276,.56],[5331,.96],[5331,.46],[5368,.40],[5386,.325],[5460,.29],[5625,.36],[5735,.325],[5754,.50],[5790,.695],[5864,.52],[5919,.895],[5882,.42],[5845,.125],[5882,.20],[5974,.14],[5956,.31],[6029,.30],[6066,.60],[5993,.545],[6100,.55],[6084,.18],[6176,.16],[6213,.83],[6194,.365],
 [6280,.70],[6290,.62],[6295,.55],[6300,.48],[6305,.66],[6310,.40],[6315,.58],[6320,.34],[6330,.28],[6340,.45],[6350,.22],[6360,.36],[6370,.30],[6380,.18],[6390,.26],[6400,.34],[6410,.24],[6420,.30],[6430,.20],[6440,.28],[6455,.34],[6470,.22],[6485,.30],[6500,.26],[6515,.32],[6530,.20],[6545,.28],[6560,.36],[6300,.85],[6290,.78],
 [6397,.695],[6544,.155],[6617,.23],[6690,.31],[6763,.255],[6800,.19],[6855,.14],[6801,.53],[6782,.475],[6764,.83],[6880,.31],[6990,.30],[7030,.25],
 [7169,.75],[7206,.71],[7228,.62],[7280,.38],[7350,.35],[7390,.34],[7420,.39],[7450,.30],[7426,.12],[7445,-.02],[7518,.02],[7536,0],[7536,.455],[7610,.37],[7650,.32],[7700,.30],[7720,.73],[7757,.73],[7775,.585],[8124,.31],[8161,-.01],[8235,.615],[8271,.54],
 [8200,.45],[8215,.38],[8225,.28],[8240,.50],[8250,.34],[8265,.42],[8280,.24],[8295,.36],[8310,.30],[8325,.46],[8340,.26],[8355,.38],[8370,.22],[8385,.32],[8400,.40],[8415,.28],[8430,.34],[8450,.24],[8470,.30],[8490,.36],[8510,.42],[8530,.46],[8550,.38],[8570,.44],[8590,.32],
 [8308,.71],[8382,.805],[8547,.64],[8584,.725],[8566,.46],
 [8690,.30],[8700,.20],[8705,.05],[8715,.12],[8720,-.02],[8730,.25],[8740,.08],[8745,-.08],[8755,.16],[8765,.02],[8775,-.12],[8785,.22],[8795,.06],[8805,-.05],[8815,.14],[8825,-.10],[8835,0],[8845,.18],[8855,-.06],[8865,.08],[8875,-.14],[8885,.04],[8900,.12],[8915,-.08],[8930,.02],[8945,.16],[8960,-.04],[8975,.06],[8990,-.10],[9005,.10],[9020,-.02],[9035,.04],[9050,-.08],[9065,.06],[9080,-.03],
 [8731,-.23],[8749,-.245],[9099,-.21],[9173,.69],[9228,.965],[9173,.525],[9228,.49],[9191,.35],[9301,.365],[9356,.29],[9173,.255],[9448,.035],[9448,.01],[9540,.48],[9570,.46],[9594,.52]
];

// C: relative frequency (%) per reaction-time bin (s)
var rtBins = [0.05, 0.1, 0.15, 0.2, 0.25, 0.3, 0.35, 0.4, 0.45, 0.5, 0.55, 0.6, 0.65, 0.7, 0.75, 0.8, 0.85, 0.9, 0.95, 1.0];
var freqKeyErrors = [0, 0.5, 3.46, 3.46, 7.47, 8.48, 8.48, 5.47, 7.47, 7.0, 8.07, 8.46, 3.5, 4.0, 3.5, 5.02, 3.01, 5.02, 4.06, 3.5];
var freqKeyCorrect = [1.08, 2.33, 3.65, 5.56, 7.47, 10.2, 12.73, 10.1, 7.47, 6.77, 5.58, 5.2, 3.84, 3.9, 3.06, 2.64, 2.12, 2.07, 1.56, 0.7];
var freqSacErrors = [3.52, 6.33, 6.81, 8.06, 10.69, 13.92, 11.35, 7.59, 6.81, 6.6, 4.8, 3.66, 2.78, 2.78, 0.72, 1.0, 1.28, 0.46, 0.76, 0];
var freqSacCorrect = [7.35, 9.62, 11.65, 12.6, 14.16, 12.84, 8.8, 6.75, 4.96, 3.54, 2.58, 1.68, 0.66, 0.72, 0.66, 0.58, 0.54, 0.04, 0.03, 0.02];

// D: errors related to facial-based instruction
var facialConditions = [['Go', 'No-go'], ['Anti', 'Pro'], ['Pro', 'Anti'], ['No-go', 'Go']];
var facialKeyErrors = ['45', '65', '90', '145'];
var facialSacErrors = ['72 (+9)', '156 (+18)', '155 (+34)', '93'];
var facialKeyAvg = ['11 \u00b1 8', '-'];
var facialSacAvg = ['22 \u00b1 16', '-'];

// E: errors related to object-based instruction
var objectKeyConditions = [['Both', 'Keypress'], ['Saccade', 'Keypress']];
var objectSacConditions = [['Both', 'Saccade'], ['Keypress', 'Saccade']];
var objectKeyErrors = ['818', '126'];
var objectSacErrors = ['66', '33'];
var objectKeyAvg = '47 \u00b1 38';
var objectSacAvg = '5 \u00b1 4';

// the figure is laid out on a 4317 x 4089 sheet; squeeze it into the window if that is smaller
var SHEET_W = 4317, SHEET_H = 4089;
var fitX = Math.min(1, (window.innerWidth || SHEET_W) / SHEET_W);
var fitY = Math.min(1, (window.innerHeight || SHEET_H) / SHEET_H);
var frame = document.getElementById('frame');
frame.style.width = Math.floor(SHEET_W * fitX) + 'px';
frame.style.height = Math.floor(SHEET_H * fitY) + 'px';
document.getElementById('chart').style.transform = 'scale(' + fitX + ',' + fitY + ')';

var chart = echarts.init(document.getElementById('chart'), null, {renderer: 'svg'});

function tickAxis(grid, position, min, max, interval) {
    return {
        gridIndex: grid, type: 'value', position: position, min: min, max: max, interval: interval,
        axisLine: {onZero: false, lineStyle: {color: AXIS_COLOR, width: 3}},
        axisTick: {inside: true, length: 22, lineStyle: {color: AXIS_COLOR, width: 3}},
        axisLabel: {show: false},
        splitLine: {show: false}
    };
}

function labelAxis(grid, position, min, max, interval, name, nameGap, margin, hideAbove) {
    var axis = tickAxis(grid, position, min, max, interval);
    axis.name = name;
    axis.nameLocation = 'middle';
    axis.nameGap = nameGap;
    axis.nameTextStyle = {fontSize: 54, color: '#000', fontFamily: FONT};
    axis.axisLabel = {
        show: true, fontSize: 52, color: AXIS_COLOR, fontFamily: FONT, margin: margin,
        formatter: function (v) {
            if (v > hideAbove + 1e-9) return '';
            return String(Math.round(v * 10) / 10);
        }
    };
    return axis;
}

function crosses(data, name, color, gx, gy, size, stroke) {
    return {
        type: 'scatter', name: name, xAxisIndex: gx, yAxisIndex: gy, data: data,
        symbol: X_PATH, symbolSize: size, progressive: 0, silent: true,
        itemStyle: {color: 'rgba(0,0,0,0)', borderColor: color, borderWidth: stroke, opacity: 1},
        z: 2
    };
}

function guideLines() {
    var lines = participantStarts.map(function (t) {
        return {xAxis: t, lineStyle: {color: '#cccccc', width: 2.5, type: 'solid'}};
    });
    lines.push({yAxis: 0, lineStyle: {color: '#595959', width: 3, type: [36, 22]}});
    return {silent: true, symbol: ['none', 'none'], z: 1, animation: false, label: {show: false}, data: lines};
}

function profile(name, values, color, dashed) {
    return {
        type: 'line', name: name, xAxisIndex: 4, yAxisIndex: 4, silent: true,
        data: values.map(function (v, i) { return [v, rtBins[i]]; }),
        symbol: 'none', itemStyle: {color: color},
        lineStyle: {color: color, width: dashed ? 7 : 10, type: dashed ? [30, 16] : 'solid'},
        z: 3
    };
}

function crossLegend(left, top, names, padding, gap, textPad) {
    return {
        orient: 'vertical', left: left, top: top, selectedMode: false,
        data: [
            {name: names[0], icon: X_PATH, itemStyle: {color: 'rgba(0,0,0,0)', borderColor: BLUE, borderWidth: 7}},
            {name: names[1], icon: X_PATH, itemStyle: {color: 'rgba(0,0,0,0)', borderColor: '#000', borderWidth: 7}}
        ],
        itemWidth: 33, itemHeight: 31, itemGap: gap, padding: padding,
        backgroundColor: '#fff', borderColor: AXIS_COLOR, borderWidth: 2.5, borderRadius: 0,
        textStyle: {fontSize: 55, color: '#000', fontFamily: FONT, padding: [0, 0, 0, textPad]}
    };
}

var keyANames = ['Keypress (n = 2906)', 'Saccade (n = 2744)'];
var keyBNames = ['Keypress (n = 200)', 'Saccade (n = 444)'];
var profileNames = ['Keypress Errors', 'Keypress Correct', 'Saccade Errors', 'Saccade Correct'];

var cGrid = {show: true, lineStyle: {color: '#e3e3e3', width: 2}};
var cx = labelAxis(2, 'bottom', 0, 15, 5, 'Relative Frequency (%)', 106, 30, 15);
cx.splitLine = cGrid;
var cy = labelAxis(2, 'left', 0, 1, 0.1, 'Reaction Time (s)', 108, 22, 1);
cy.splitLine = cGrid;

var option = {
    animation: false,
    backgroundColor: '#fff',
    textStyle: {fontFamily: FONT},
    grid: [
        {left: 290, top: 159, width: 2592, height: 884},
        {left: 290, top: 1332, width: 2592, height: 892},
        {left: 3130, top: 162, width: 1135, height: 1970}
    ],
    xAxis: [
        labelAxis(0, 'bottom', 0, 10000, 1000, 'Trial Number', 108, 30, 9000),
        tickAxis(0, 'top', 0, 10000, 1000),
        labelAxis(1, 'bottom', 0, 10000, 1000, 'Trial Number', 104, 30, 9000),
        tickAxis(1, 'top', 0, 10000, 1000),
        cx,
        tickAxis(2, 'top', 0, 15, 5)
    ],
    yAxis: [
        labelAxis(0, 'left', -0.4, 1.2, 0.2, 'Reaction Time (s)', 129, 27, 1),
        tickAxis(0, 'right', -0.4, 1.2, 0.2),
        labelAxis(1, 'left', -0.4, 1.2, 0.2, 'Reaction Time (s)', 129, 27, 1),
        tickAxis(1, 'right', -0.4, 1.2, 0.2),
        cy,
        tickAxis(2, 'right', 0, 1, 0.1)
    ],
    legend: [
        crossLegend(1635, 876, keyANames, [16, 16, 14, 54], 19, 50),
        crossLegend(1572, 2044, keyBNames, [17, 16, 12, 54], 14, 44)
    ],
    series: []
};

// the dense correct-response cloud gets slightly heavier crosses than the sparse error panel
var keyA = crosses(keyCorrect, keyANames[0], BLUE, 0, 0, 34, 9);
keyA.markLine = guideLines();
var keyB = crosses(keyError, keyBNames[0], BLUE, 2, 2, 31, 8);
keyB.markLine = guideLines();
option.series.push(keyA, crosses(sacCorrect, keyANames[1], '#000', 0, 0, 34, 9));
option.series.push(keyB, crosses(sacError, keyBNames[1], '#000', 2, 2, 31, 8));
option.series.push(
    profile(profileNames[0], freqKeyErrors, BLUE, false),
    profile(profileNames[1], freqKeyCorrect, BLUE, true),
    profile(profileNames[2], freqSacErrors, '#000', false),
    profile(profileNames[3], freqSacCorrect, '#000', true)
);

chart.setOption(option);

// ---- decorations: panel letters, titles, separators, legend C, participant labels, tables ----
var graphics = [];

function txt(x, y, s, size, opts) {
    opts = opts || {};
    var el = {
        type: 'text', x: x, y: y, silent: true, rotation: opts.rotation || 0,
        style: {
            text: s, fill: opts.fill || '#000', fontSize: size, fontFamily: opts.family || FONT,
            fontWeight: opts.weight || 'normal', fontStyle: opts.style || 'normal',
            align: opts.align || 'center', verticalAlign: 'middle'
        }
    };
    if (opts.rich) el.style.rich = opts.rich;
    return el;
}
function box(x1, y1, x2, y2, fill, stroke, lw) {
    return {
        type: 'rect', silent: true,
        shape: {x: x1, y: y1, width: x2 - x1, height: y2 - y1},
        style: {fill: fill || 'none', stroke: stroke || 'none', lineWidth: lw || 0}
    };
}
function seg(x1, y1, x2, y2, color, width, dash) {
    return {
        type: 'line', silent: true, shape: {x1: x1, y1: y1, x2: x2, y2: y2},
        style: {stroke: color, lineWidth: width, lineDash: dash || null}
    };
}

graphics.push(seg(0, 1231, 2920, 1231, '#555', 2, [5, 5]), seg(2920, 0, 2920, 2396, '#555', 2, [5, 5]),
    seg(0, 2396, 4317, 2396, '#555', 2, [5, 5]), seg(0, 3306, 4317, 3306, '#555', 2, [5, 5]));

['A', 'B', 'C', 'D', 'E'].forEach(function (letter, i) {
    var pos = [[18, 57], [14, 1313], [2968, 57], [14, 2494], [14, 3398]][i];
    graphics.push(txt(pos[0], pos[1], letter, 68, {weight: 'bold', align: 'left'}));
});
graphics.push(txt(1511, 115, 'Correct Responses: facial-based instruction', 58, {weight: 'bold'}));
graphics.push(txt(1511, 1290, 'Erroneous Responses: facial-based instruction', 58, {weight: 'bold'}));

// legend of panel C
graphics.push(box(3555, 196, 4230, 549, '#fff', AXIS_COLOR, 2.5));
[[BLUE, 10, null], [BLUE, 7, [30, 16]], ['#000', 10, null], ['#000', 7, [30, 16]]].forEach(function (st, i) {
    var y = [249, 333, 419, 505][i];
    graphics.push(seg(3569, y, 3691, y, st[0], st[1], st[2]));
    graphics.push(txt(3704, y, profileNames[i], 62, {align: 'left'}));
});

[0, 2].forEach(function (axisIdx) {
    participantStarts.forEach(function (t, i) {
        var p = chart.convertToPixel({xAxisIndex: axisIdx, yAxisIndex: axisIdx}, [t, 1.2]);
        graphics.push(txt(p[0] + 38, p[1] + 17, participantLabels[i], 44,
            {fill: '#b0b0b0', align: 'right', rotation: Math.PI / 2}));
    });
});

// tables
var YELLOW = '#f6e3a1', DARK = '#595959', HEAD = '#d9d9d9', CELL = '#f0f0f0';
var ioRich = {i: {fontFamily: SERIF, fontStyle: 'italic', fontWeight: 'normal', fontSize: 64, fill: '#000'}};
var perRich = {i: {fontFamily: SERIF, fontStyle: 'italic', fontWeight: 'normal', fontSize: 42, fill: '#000'}};
function io(pair) { return pair[0] + ' {i|io} ' + pair[1]; }

function rowLabels(yErr, ySd) {
    graphics.push(txt(615, yErr - 30, '# Errors', 62, {weight: 'bold', align: 'right'}));
    graphics.push(txt(615, yErr + 36, '(total {i|per} condition)', 40, {weight: 'bold', align: 'right', rich: perRich}));
    graphics.push(txt(615, ySd - 28, '# Errors \u00b1 SD', 62, {weight: 'bold', align: 'right'}));
    graphics.push(txt(615, ySd + 36, '(avg. {i|per} participant)', 40, {weight: 'bold', align: 'right', rich: perRich}));
}
function footnote(y) {
    graphics.push(txt(210, y, '{b|SD:} Standard deviation; {s|io:} instead of', 46, {
        style: 'italic', align: 'left',
        rich: {
            b: {fontWeight: 'bold', fontStyle: 'italic', fontSize: 46, fontFamily: FONT},
            s: {fontWeight: 'bold', fontStyle: 'italic', fontSize: 46, fontFamily: SERIF}
        }
    }));
}

// table D
var kCols = [[659, 1098], [1104, 1552], [1558, 2003], [2009, 2447]];
var sCols = [[2472, 2911], [2917, 3363], [3369, 3819], [3825, 4274]];
function mid(c) { return (c[0] + c[1]) / 2; }

graphics.push(box(175, 2426, 4274, 3217, '#fff'));
graphics.push(box(175, 2426, 4274, 2541, YELLOW));
graphics.push(box(175, 2426, 634, 2905, YELLOW), box(175, 2908, 634, 3060, YELLOW), box(175, 3064, 634, 3217, YELLOW));
graphics.push(box(659, 2565, 2447, 2676, BLUE), box(2472, 2565, 4274, 2676, '#000'));
graphics.push(box(659, 2679, 2003, 2790, DARK), box(2009, 2679, 2447, 2790, DARK));
graphics.push(box(2472, 2679, 3819, 2790, DARK), box(3825, 2679, 4274, 2790, DARK));
kCols.concat(sCols).forEach(function (c) {
    graphics.push(box(c[0], 2793, c[1], 2905, HEAD), box(c[0], 2908, c[1], 3060, CELL));
});
graphics.push(box(659, 3064, 2003, 3215, CELL), box(2009, 3064, 2447, 3215, CELL));
graphics.push(box(2472, 3064, 3819, 3215, CELL), box(3825, 3064, 4274, 3215, CELL));
graphics.push(box(175, 2426, 4274, 3217, null, '#1a1a1a', 4));

graphics.push(txt(2224, 2489, 'Errors related to facial-based instruction', 62, {weight: 'bold'}));
graphics.push(txt(1553, 2620, 'Keypress', 74, {weight: 'bold', fill: '#fff'}));
graphics.push(txt(3373, 2620, 'Saccade', 74, {weight: 'bold', fill: '#fff'}));
graphics.push(txt(1331, 2734, 'Commission', 66, {weight: 'bold', fill: '#fff'}));
graphics.push(txt(2228, 2734, 'Omission', 66, {weight: 'bold', fill: '#fff'}));
graphics.push(txt(3145, 2734, 'Commission', 66, {weight: 'bold', fill: '#fff'}));
graphics.push(txt(4049, 2734, 'Omission', 66, {weight: 'bold', fill: '#fff'}));
facialConditions.forEach(function (pair, i) {
    graphics.push(txt(mid(kCols[i]), 2849, io(pair), 64, {weight: 'bold', rich: ioRich}));
    graphics.push(txt(mid(sCols[i]), 2849, io(pair), 64, {weight: 'bold', rich: ioRich}));
    graphics.push(txt(mid(kCols[i]), 2984, facialKeyErrors[i], 64));
    graphics.push(txt(mid(sCols[i]), 2984, facialSacErrors[i], 64));
});
graphics.push(txt(1331, 3140, facialKeyAvg[0], 64), txt(2228, 3140, facialKeyAvg[1], 64));
graphics.push(txt(3145, 3140, facialSacAvg[0], 64), txt(4049, 3140, facialSacAvg[1], 64));
rowLabels(2984, 3140);
footnote(3255);

// table E
var kColsE = [[659, 1552], [1558, 2447]];
var sColsE = [[2472, 3363], [3369, 4274]];
graphics.push(box(175, 3344, 4274, 4020, '#fff'));
graphics.push(box(175, 3344, 4274, 3458, YELLOW));
graphics.push(box(175, 3344, 634, 3708, YELLOW), box(175, 3712, 634, 3865, YELLOW), box(175, 3868, 634, 4020, YELLOW));
graphics.push(box(659, 3484, 2447, 3595, BLUE), box(2472, 3484, 4274, 3595, '#000'));
kColsE.concat(sColsE).forEach(function (c) {
    graphics.push(box(c[0], 3597, c[1], 3708, HEAD), box(c[0], 3712, c[1], 3865, CELL));
});
graphics.push(box(659, 3868, 2447, 4018, CELL), box(2472, 3868, 4274, 4018, CELL));
graphics.push(box(175, 3344, 4274, 4020, null, '#1a1a1a', 4));

graphics.push(txt(2224, 3409, 'Errors related to object-based instruction', 62, {weight: 'bold'}));
graphics.push(txt(1553, 3540, 'Keypress', 74, {weight: 'bold', fill: '#fff'}));
graphics.push(txt(3373, 3540, 'Saccade', 74, {weight: 'bold', fill: '#fff'}));
objectKeyConditions.forEach(function (pair, i) {
    graphics.push(txt(mid(kColsE[i]), 3652, io(pair), 64, {weight: 'bold', rich: ioRich}));
    graphics.push(txt(mid(kColsE[i]), 3788, objectKeyErrors[i], 64));
});
objectSacConditions.forEach(function (pair, i) {
    graphics.push(txt(mid(sColsE[i]), 3652, io(pair), 64, {weight: 'bold', rich: ioRich}));
    graphics.push(txt(mid(sColsE[i]), 3788, objectSacErrors[i], 64));
});
graphics.push(txt(1553, 3944, objectKeyAvg, 64), txt(3373, 3944, objectSacAvg, 64));
rowLabels(3788, 3944);
footnote(4059);

chart.setOption({graphic: {elements: graphics}});
</script>
</body>
</html>
